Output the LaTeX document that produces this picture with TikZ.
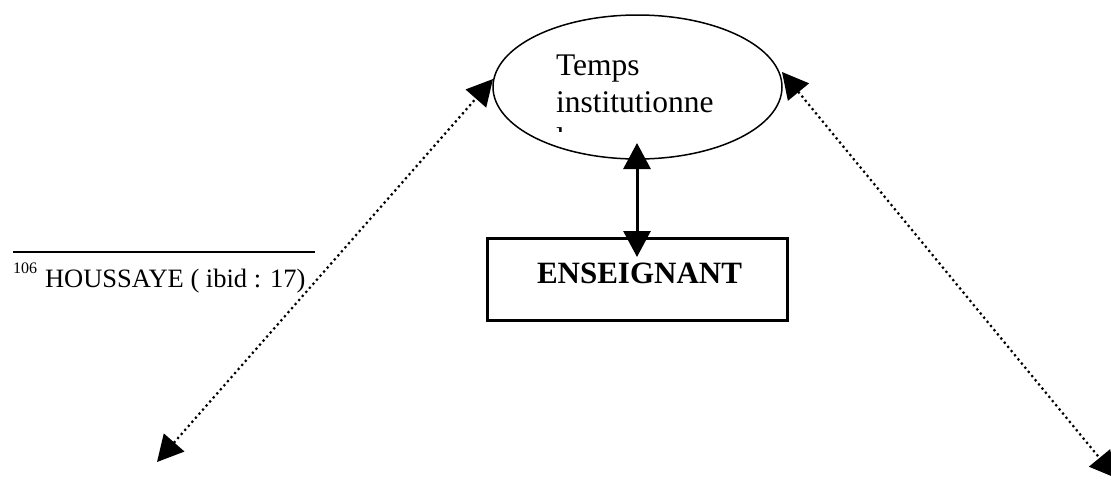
\documentclass[tikz,border=0pt]{standalone}
\usepackage{fontspec}
\setmainfont{Liberation Serif}
\usetikzlibrary{arrows.meta,shapes.geometric}

\tikzset{
  bothtips/.style={{Triangle[length=26pt,width=27pt]}-{Triangle[length=26pt,width=27pt]}},
  dotline/.style={line width=2.2pt,dash pattern=on 2.2pt off 3.2pt,bothtips},
  solidlink/.style={line width=3pt,bothtips},
  txt/.style={inner sep=0pt,outer sep=0pt,anchor=base west},
}

\begin{document}
\begin{tikzpicture}[x=1pt,y=-1pt]
  \useasboundingbox (0,0) rectangle (1111,480);
  \clip (0,0) rectangle (1111,480);

  % ellipse: institutional time
  \node[ellipse,draw,line width=1.5pt,minimum width=289pt,minimum height=144pt,inner sep=0pt]
    (temps) at (637.5,87) {};
  \node[txt,font=\fontsize{31.5}{37}\selectfont] (t1) at (556,75) {Temps};
  \node[txt,font=\fontsize{31.5}{37}\selectfont] (t2) at (556,112) {institutionne};
  \begin{scope}
    \clip (540,118) rectangle (600,131);
    \node[txt,font=\fontsize{31.5}{37}\selectfont] (t3) at (556,149) {l};
  \end{scope}

  % teacher box
  \node[rectangle,draw,line width=3pt,minimum width=300pt,minimum height=82pt,inner sep=0pt]
    (ens) at (637,279) {};
  \node[inner sep=0pt,anchor=base,font=\fontsize{31}{37}\selectfont\bfseries]
    (enslabel) at (639.5,283) {ENSEIGNANT};

  % link between ellipse and box
  \coordinate (vt) at (637,143);
  \coordinate (vb) at (637,257);
  \draw[solidlink] (vb) -- (vt);

  % dotted diagonals
  \coordinate (lt) at (493,79);
  \coordinate (lb) at (157,462);
  \coordinate (rt) at (782,72);
  \coordinate (rb) at (1116,478);
  \draw[dotline] (lb) -- (lt);
  \draw[dotline] (rt) -- (rb);

  % footnote
  \coordinate (fl) at (13,252);
  \coordinate (fr) at (315,252);
  \draw[line width=2pt] (fl) -- (fr);
  \node[txt,font=\fontsize{16}{18}\selectfont] (fnum) at (13,273) {106};
  \node[txt,font=\fontsize{26.5}{30}\selectfont] (fnote) at (45,287) {HOUSSAYE ( ibid : 17)};
\end{tikzpicture}
\end{document}
